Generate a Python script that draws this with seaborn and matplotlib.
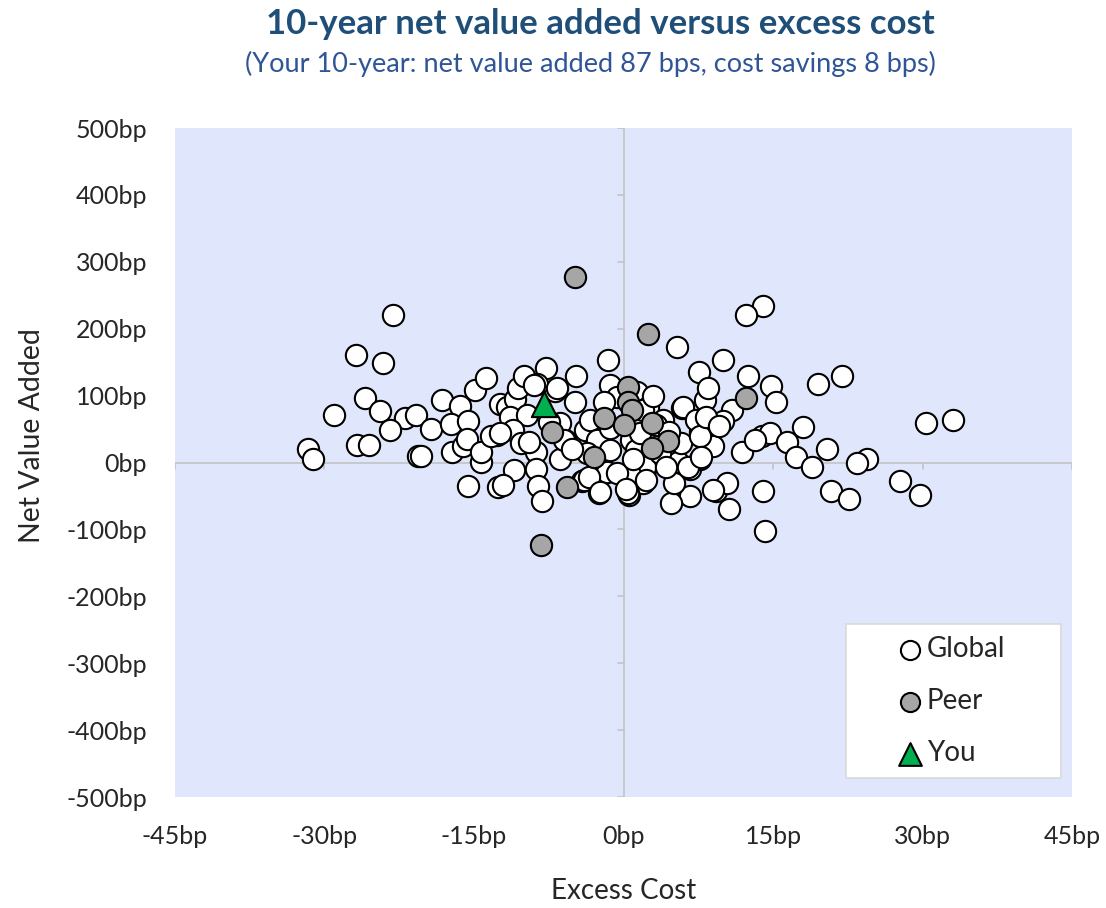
import numpy as np
import pandas as pd
import seaborn as sns
import matplotlib.pyplot as plt
from matplotlib.ticker import FuncFormatter

# global universe: excess cost (bp) and net value added (bp)
global_x = [-23.1, -26.8, -24.1, -25.9, -24.4, -29.0, -21.9, -20.8, -23.4, -31.7,
            -31.2, -26.7, -25.5, -20.6, -20.3, -19.3, -18.2, -16.4, -17.3, -15.6,
            -14.9, -13.8, -17.2, -16.1, -15.7, -14.3, -14.3, -15.6, -12.6, -12.7,
            -13.3, -12.4, -11.7, -10.9, -10.6, -10.0, -7.8, -4.8, -4.9, -6.9,
            -8.7, -11.4, -9.7, -11.1, -10.3, -8.8, -6.4, -11.0, -8.8, -8.6,
            -8.2, -4.2, -2.5, -1.6, -1.4, -3.9, -3.4, -2.3, -1.7, -5.9,
            -6.4, 14.0, 12.3, 5.4, 10.0, 7.6, 12.5, 14.8, 15.3, 19.5,
            21.9, 30.3, 33.1, 8.2, 8.5, 5.9, 10.9, 10.0, 7.5, 7.7,
            9.0, 11.9, 13.9, 14.7, 18.0, 16.4, 17.3, 18.9, 20.4, 24.4,
            23.4, 27.7, 29.7, 20.8, 22.6, 14.0, 14.2, 10.6, 9.3, 10.4,
            6.7, 4.8, 5.1, 6.7, 5.5, 7.7, 0.6, 2.2, 0.8, 2.0,
            5.8, -4.0, 1.4, 2.5, 4.0, 6.0, 7.3, 7.7, -2.7, -1.4,
            0.8, 1.3, 1.7, 2.2, 0.8, -3.5, -2.4, 0.5, 2.3, 6.5,
            7.8, 9.0, -12.1, -12.4, -6.0, -6.7, -9.0, 8.3, 9.6, -1.4,
            -0.7, 2.0, 3.3, 3.7, 4.3, -3.7, -0.7, 0.2, -5.2, -7.5,
            3.0, 4.6, 1.0, -2.0, -9.5, 13.2]
global_y = [221, 161, 149, 96, 77, 71, 67, 71, 49, 20,
            6, 26, 26, 10, 10, 50, 94, 84, 58, 62,
            108, 126, 16, 24, 35, 1, 16, -35, -36, 41,
            39, 88, 83, 95, 111, 129, 141, 129, 90, 107,
            117, 68, 71, 49, 29, 16, 5, -11, -10, -35,
            -58, -28, -45, 154, 116, 49, 64, 32, -14, 34,
            59, 234, 221, 173, 153, 135, 130, 115, 90, 117,
            129, 59, 64, 93, 111, 82, 78, 62, 62, 46,
            25, 16, 40, 44, 53, 30, 9, -7, 20, 5,
            0, -27, -49, -42, -54, -43, -103, -70, -43, -31,
            -50, -60, -31, -10, 1, 6, -49, -9, -24, -31,
            29, -26, 106, 83, 64, 83, 64, 39, 34, 19,
            34, 19, 44, -6, -20, -21, -44, -46, -26, -6,
            9, -41, -34, 44, 34, 111, 116, 68, 54, 51,
            98, 78, 56, 14, -6, 14, -16, -40, 20, 60,
            100, 45, 5, 90, 30, 33]

peer_x = [-4.9, 2.5, -5.7, -8.3, -7.2, -2.0, -3.0, 0.5, 0.5, 0.9, 0.0, 2.9, 4.5, 2.9, 12.3]
peer_y = [278, 192, -37, -123, 46, 66, 8, 113, 90, 78, 56, 59, 32, 22, 96]

you_x = [-8]
you_y = [87]

x_ticks = [-45, -30, -15, 0, 15, 30, 45]
y_ticks = [-500, -400, -300, -200, -100, 0, 100, 200, 300, 400, 500]

glob = pd.DataFrame({"cost": global_x, "nva": global_y})
peer = pd.DataFrame({"cost": peer_x, "nva": peer_y})
you = pd.DataFrame({"cost": you_x, "nva": you_y})

sns.set_style("white")
plt.rcParams["font.family"] = ["Lato", "DejaVu Sans"]

fig = plt.figure(figsize=(11.06, 9.08), dpi=100)
ax = fig.add_axes([0.1582, 0.1222, 0.8111, 0.7368])
ax.set_facecolor("#E0E7FC")

# centre cross with small ticks
ax.axhline(0, color="#C4C4C4", lw=1.2, zorder=1)
ax.axvline(0, color="#C4C4C4", lw=1.2, zorder=1)
for t in x_ticks:
    ax.plot([t, t], [0, -10], color="#C4C4C4", lw=1.2, zorder=1)
for t in y_ticks:
    ax.plot([0, -0.6], [t, t], color="#C4C4C4", lw=1.2, zorder=1)

sns.scatterplot(data=glob, x="cost", y="nva", ax=ax, color="white", s=235,
                edgecolor="black", linewidth=1.5, label="Global", zorder=3)
sns.scatterplot(data=peer, x="cost", y="nva", ax=ax, color="#A6A6A6", s=235,
                edgecolor="black", linewidth=1.5, label="Peer", zorder=4)
sns.scatterplot(data=you, x="cost", y="nva", ax=ax, color="#00B050", s=330,
                marker="^", edgecolor="black", linewidth=1.5, label="You", zorder=5)

ax.set_xlim(-45, 45)
ax.set_ylim(-500, 500)
ax.set_xticks(x_ticks)
ax.set_yticks(y_ticks)
ax.xaxis.set_major_formatter(FuncFormatter(lambda v, p: f"{int(v)}bp"))
ax.yaxis.set_major_formatter(FuncFormatter(lambda v, p: f"{int(v)}bp"))
ax.tick_params(axis="both", length=0, labelsize=18, pad=20)
for s in ax.spines.values():
    s.set_visible(False)

ax.set_xlabel("Excess Cost", fontsize=20)
ax.set_ylabel("Net Value Added", fontsize=20.5)
ax.xaxis.set_label_coords(0.5, -0.121)
ax.yaxis.set_label_coords(-0.145, 0.54)

# fixed-size legend box like the original
leg = ax.legend(loc="lower left", bbox_to_anchor=(0.748, 0.028, 0.240, 0.235),
                mode="expand", fontsize=20, frameon=True, fancybox=False,
                framealpha=1, edgecolor="#D9D9D9", markerscale=0.9,
                handlelength=3.7, handletextpad=-1.25, labelspacing=0.93,
                borderpad=0.45, borderaxespad=0)
leg.get_frame().set_linewidth(1.2)

fig.text(0.5425, 0.991, "10-year net value added versus excess cost", ha="center",
         va="top", fontsize=25, fontweight="bold", color="#1F4E79")
fig.text(0.534, 0.944, "(Your 10-year: net value added 87 bps, cost savings 8 bps)",
         ha="center", va="top", fontsize=19.5, color="#2F5597")

fig.savefig("out.png", dpi=100)
